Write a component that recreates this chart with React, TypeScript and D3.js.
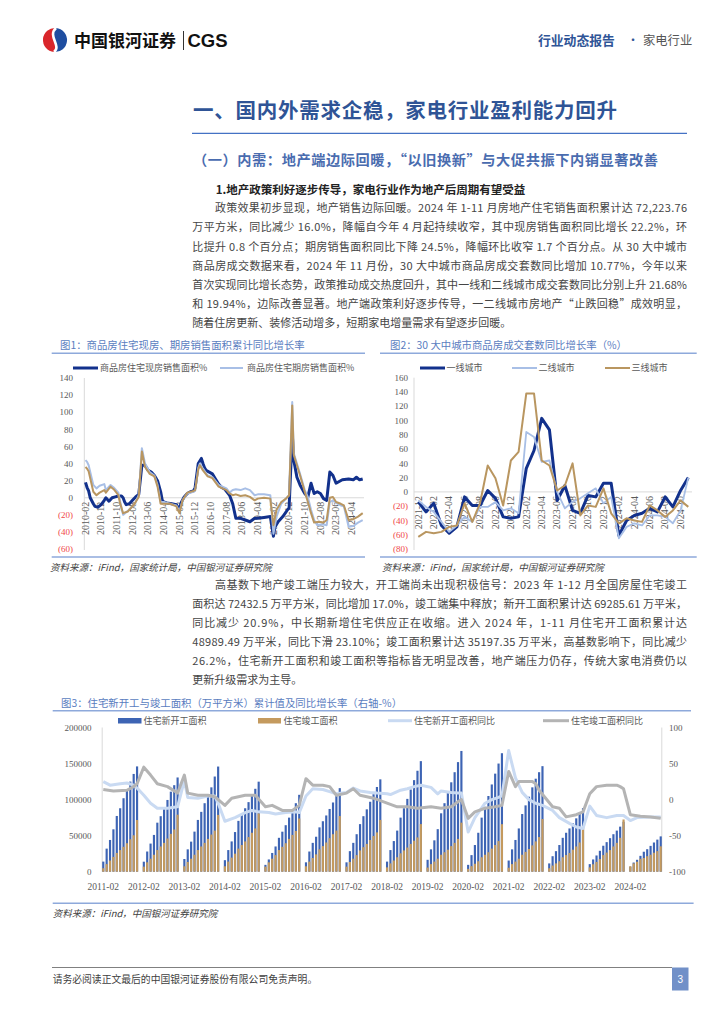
import React from "react";
import * as d3 from "d3";

const CJK = '"Noto Sans CJK SC","Noto Sans",sans-serif';
const SERIF = '"Liberation Serif","DejaVu Serif",serif';
const SANS = '"Liberation Sans",Arial,sans-serif';

// ---------------- text ----------------
const titleMain = "一、国内外需求企稳，家电行业盈利能力回升";
const titleSub = "（一）内需：地产端边际回暖，“以旧换新”与大促共振下内销显著改善";
const heading1 = "1.地产政策利好逐步传导，家电行业作为地产后周期有望受益";
const para1 = [
  "政策效果初步显现，地产销售边际回暖。2024 年 1-11 月房地产住宅销售面积累计达 72,223.76",
  "万平方米，同比减少 16.0%，降幅自今年 4 月起持续收窄，其中现房销售面积同比增长 22.2%，环",
  "比提升 0.8 个百分点；期房销售面积同比下降 24.5%，降幅环比收窄 1.7 个百分点。从 30 大中城市",
  "商品房成交数据来看，2024 年 11 月份，30 大中城市商品房成交套数同比增加 10.77%，今年以来",
  "首次实现同比增长态势，政策推动成交热度回升，其中一线和二线城市成交套数同比分别上升 21.68%",
  "和 19.94%，边际改善显著。地产端政策利好逐步传导，一二线城市房地产“止跌回稳”成效明显，",
  "随着住房更新、装修活动增多，短期家电增量需求有望逐步回暖。",
];
const para2 = [
  "高基数下地产竣工端压力较大，开工端尚未出现积极信号：2023 年 1-12 月全国房屋住宅竣工",
  "面积达 72432.5 万平方米，同比增加 17.0%，竣工端集中释放；新开工面积累计达 69285.61 万平米，",
  "同比减少 20.9%，中长期新增住宅供应正在收缩。进入 2024 年，1-11 月住宅开工面积累计达",
  "48989.49 万平米，同比下滑 23.10%；竣工面积累计达 35197.35 万平米，高基数影响下，同比减少",
  "26.2%，住宅新开工面积和竣工面积等指标皆无明显改善，地产端压力仍存，传统大家电消费仍以",
  "更新升级需求为主导。",
];

// ---------------- chart 1 data ----------------
const c1Base = "2010-02";
const c1Last = "2024-11";
const c1Labels = ["2010-02","2010-12","2011-10","2012-08","2013-06","2014-04","2015-02","2015-12","2016-10","2017-08","2018-06","2019-04","2020-02","2020-12","2021-10","2022-08","2023-06","2024-04"];
const c1YTicks = [-60,-40,-20,0,20,40,60,80,100,120,140];
const c1Xian: [string, number][] = [
  ["2010-02",18],["2010-03",12],["2010-04",8],["2010-05",0],["2010-07",-7],["2010-08",-10],["2010-10",-11],["2010-12",-8],
  ["2011-02",-3],["2011-03",0],["2011-04",-2],["2011-05",-4],["2011-07",0],["2011-09",1],["2011-11",2],["2012-01",2],
  ["2012-02",0],["2012-03",-5],["2012-04",-8],["2012-06",-7],["2012-08",-3],["2012-10",1],["2012-12",4],["2013-02",38],
  ["2013-04",38],["2013-06",32],["2013-08",30],["2013-10",26],["2013-12",20],["2014-02",7],["2014-03",-3],["2014-04",-5],
  ["2014-06",-6],["2014-09",-7],["2014-12",-8],["2015-02",-14],["2015-03",-6],["2015-05",1],["2015-07",5],["2015-09",7],
  ["2015-11",8],["2015-12",12],["2016-02",40],["2016-04",46],["2016-05",40],["2016-06",35],["2016-07",32],["2016-09",30],
  ["2016-11",28],["2017-01",22],["2017-03",16],["2017-05",12],["2017-07",10],["2017-10",3],["2017-12",-7],["2018-02",-24],
  ["2018-05",-24],["2018-08",-26],["2018-11",-28],["2019-02",-24],["2019-04",-24],["2019-08",-23],["2019-12",-22],
  ["2020-02",-45],["2020-03",-34],["2020-05",-28],["2020-08",-22],["2020-11",-14],["2020-12",-12],["2021-02",75],
  ["2021-03",44],["2021-05",24],["2021-07",15],["2021-10",5],["2021-12",1],["2022-02",17],["2022-03",11],["2022-04",5],
  ["2022-06",7],["2022-08",5],["2022-10",-1],["2022-12",-3],["2023-02",30],["2023-03",28],["2023-04",26],["2023-06",17],
  ["2023-08",19],["2023-10",21],["2024-02",22],["2024-05",21],["2024-07",24],["2024-09",21],["2024-11",22],
];
const c1Qi: [string, number][] = [
  ["2010-02",44],["2010-03",42],["2010-04",38],["2010-07",15],["2010-09",11],["2010-11",14],["2011-02",16],["2011-03",9],
  ["2011-06",15],["2011-08",12],["2011-11",6],["2011-12",-3],["2012-02",-20],["2012-04",-17],["2012-07",-12],["2012-10",-5],
  ["2012-12",3],["2013-02",58],["2013-04",40],["2013-07",30],["2013-10",26],["2013-12",15],["2014-02",-5],["2014-04",-5],
  ["2014-08",-7],["2014-12",-9],["2015-02",-16],["2015-04",-3],["2015-07",5],["2015-11",7],["2015-12",8],["2016-02",35],
  ["2016-03",40],["2016-05",34],["2016-08",26],["2016-11",24],["2017-03",15],["2017-08",11],["2017-10",6],["2017-12",9],
  ["2018-02",10],["2018-05",9],["2018-08",11],["2018-11",9],["2019-02",3],["2019-04",4],["2019-08",4],["2019-12",3],
  ["2020-02",-42],["2020-04",-22],["2020-07",-7],["2020-10",-1],["2020-12",3],["2021-02",112],["2021-03",52],["2021-07",28],
  ["2021-10",9],["2021-12",1],["2022-02",-14],["2022-04",-26],["2022-06",-32],["2022-09",-31],["2022-12",-32],["2023-02",-5],
  ["2023-04",-3],["2023-06",-6],["2023-09",-9],["2023-11",-10],["2024-02",-34],["2024-05",-33],["2024-08",-29],["2024-11",-26],
];
const c1Total: [string, number][] = [
  ["2010-02",36],["2010-03",34],["2010-04",31],["2010-07",7],["2010-09",3],["2010-11",6],["2011-02",9],["2011-03",6],
  ["2011-06",13],["2011-08",10],["2011-11",3],["2011-12",-6],["2012-02",-18],["2012-05",-16],["2012-08",-10],["2012-10",-5],
  ["2012-12",1],["2013-02",54],["2013-04",36],["2013-07",28],["2013-10",25],["2013-12",13],["2014-02",-7],["2014-04",-7],
  ["2014-08",-7],["2014-12",-10],["2015-02",-18],["2015-04",-3],["2015-07",6],["2015-11",8],["2015-12",9],["2016-02",33],
  ["2016-03",38],["2016-05",32],["2016-08",25],["2016-11",23],["2017-03",13],["2017-08",9],["2017-10",5],["2017-12",3],
  ["2018-02",4],["2018-05",2],["2018-08",3],["2018-11",1],["2019-02",-3],["2019-04",-1],["2019-08",0],["2019-12",-1],
  ["2020-02",-32],["2020-04",-14],["2020-07",-5],["2020-10",-1],["2020-12",3],["2021-02",108],["2021-03",50],["2021-07",26],
  ["2021-10",7],["2021-12",-5],["2022-02",-18],["2022-04",-29],["2022-07",-28],["2022-10",-29],["2022-12",-26],["2023-02",0],
  ["2023-04",1],["2023-06",-5],["2023-09",-7],["2023-11",-9],["2024-02",-26],["2024-05",-25],["2024-08",-22],["2024-11",-18],
];

// ---------------- chart 2 data ----------------
const c2Months = ["2021-12","2022-01","2022-02","2022-03","2022-04","2022-05","2022-06","2022-07","2022-08","2022-09","2022-10","2022-11","2022-12",
  "2023-01","2023-02","2023-03","2023-04","2023-05","2023-06","2023-07","2023-08","2023-09","2023-10","2023-11","2023-12",
  "2024-01","2024-02","2024-03","2024-04","2024-05","2024-06","2024-07","2024-08","2024-09","2024-10","2024-11"];
const c2YTicks = [-80,-60,-40,-20,0,20,40,60,80,100,120,140,160];
const c2Tier1 = [-14,-28,-16,-47,-58,-49,-7,-19,-19,2,-9,-35,-37,-35,33,58,103,87,-12,9,-26,-30,-5,-7,12,12,-61,-40,-33,-30,-23,-28,-7,-21,2,20];
const c2Tier2 = [-12,-21,-28,-42,-56,-47,-35,-42,-21,-21,-14,-26,-23,-30,84,77,42,44,0,-23,-14,-9,-2,5,-16,-7,-65,-49,-44,-47,-33,-33,-35,-44,-26,20];
const c2Tier3 = [-63,-56,-58,-56,-49,-47,-16,-42,-16,37,19,-19,44,56,138,138,44,37,2,9,40,-33,-19,-21,5,-30,-44,-37,-40,-42,-19,-26,-35,-26,-12,-21];

// ---------------- chart 3 data ----------------
const c3Base = "2011-02";
const c3Years = [2011,2012,2013,2014,2015,2016,2017,2018,2019,2020,2021,2022,2023,2024];
// cumulative Feb..Dec, 万平方米
const c3Starts: number[][] = [
  [14000,32000,44000,58800,77300,88000,101900,113000,125000,135600,146035],
  [13900,28000,39000,51000,68000,77000,88000,99500,111000,120000,130695],
  [17600,31000,41700,55600,71800,83000,95000,106500,117000,132000,145845],
  [16000,30000,42000,55000,70500,79000,88000,96500,107500,115000,124877],
  [9500,17000,26000,35000,47000,55500,64500,75000,84500,95000,106651],
  [13000,28000,40000,48500,61500,70000,78000,87000,96000,105000,115911],
  [13000,28500,40000,52000,66000,77000,86500,97000,107500,117500,128098],
  [14000,30000,42500,57000,75000,88000,101000,114000,127000,140000,153353],
  [16500,31000,43500,59000,81000,95000,109000,124000,138000,152000,167463],
  [9500,23000,37000,54000,75000,90000,105000,121000,136000,150000,164329],
  [15500,31000,44000,60000,80000,92000,104000,117000,129000,138000,146379],
  [11500,21500,28500,37000,47000,54000,60000,67000,74000,81000,88135],
  [10500,17000,22500,29000,36000,41000,46500,52000,57000,62500,69286],
  [6900,12700,16500,22000,27700,31200,35800,40500,44500,48989],
];
const c3Compl: number[][] = [
  [4800,10500,15500,20500,26000,30000,34500,39500,45000,50500,71692],
  [7000,13000,18000,23500,30000,35000,40000,46000,52500,58500,79043],
  [7500,13500,18000,23500,30000,35000,40000,45500,51500,57000,78741],
  [7500,14000,19500,25000,32000,37000,42000,48000,54000,60000,80868],
  [7000,13000,18000,23000,30000,34500,39500,45500,51000,56500,73777],
  [7500,14000,19000,24000,31000,35500,40500,46500,52000,57000,77185],
  [7000,13500,18000,23000,29500,34000,38500,44000,49500,54500,71815],
  [6000,11500,15500,20000,25500,29500,33500,38500,43000,47500,66016],
  [5700,10500,14000,18000,23500,27000,30500,35500,40000,45500,68011],
  [3900,7700,11000,14500,20000,23500,27000,32000,37000,42500,65910],
  [5500,10500,14000,18000,23500,27500,31500,36500,42000,48000,73016],
  [4800,8500,11500,14500,20000,23000,26000,30500,35000,40500,62539],
  [6000,10300,13500,17500,23000,26500,30000,35000,40000,47000,72433],
  [7600,11500,13800,17800,19000,21500,23500,26300,28500,35197],
];
const c3StartsYoY: [string, number][] = [
  ["2011-02",25],["2011-04",20],["2011-07",22],["2011-09",23],["2011-11",20],["2011-12",16],["2012-02",6],["2012-04",-5],
  ["2012-06",-12],["2012-09",-12],["2012-12",-10],["2013-02",27],["2013-03",3],["2013-06",2],["2013-09",5],["2013-11",5],
  ["2013-12",-5],["2014-02",-30],["2014-05",-25],["2014-08",-18],["2014-10",-15],["2014-12",-17],["2015-03",-18],["2015-05",-20],
  ["2015-08",-18],["2015-11",-17],["2015-12",-18],["2016-02",5],["2016-04",15],["2016-07",14],["2016-09",11],["2016-11",8],
  ["2017-02",10],["2017-04",16],["2017-06",12],["2017-09",10],["2017-11",9],["2018-02",8],["2018-03",7],["2018-06",13],
  ["2018-08",15],["2018-10",18],["2018-12",20],["2019-03",17],["2019-05",8],["2019-06",12],["2019-09",10],["2019-11",9],
  ["2019-12",9],["2020-02",-45],["2020-04",-25],["2020-07",-5],["2020-09",0],["2020-11",3],["2020-12",5],["2021-02",68],
  ["2021-04",30],["2021-06",10],["2021-08",0],["2021-10",-5],["2021-12",-8],["2022-03",-15],["2022-05",-25],["2022-08",-33],
  ["2022-10",-38],["2022-12",-40],["2023-02",-9],["2023-04",-22],["2023-07",-25],["2023-10",-22],["2023-12",-22],["2024-02",-29],
  ["2024-04",-25],["2024-08",-24],["2024-11",-24],
];
const c3ComplYoY: [string, number][] = [
  ["2011-02",14],["2011-05",12],["2011-09",13],["2011-11",18],["2011-12",22],["2012-02",45],["2012-04",34],["2012-06",22],
  ["2012-09",18],["2012-12",9],["2013-02",34],["2013-03",9],["2013-06",6],["2013-09",6],["2013-11",4],["2014-02",-8],
  ["2014-04",2],["2014-06",4],["2014-08",6],["2014-11",6],["2015-02",-10],["2015-04",-8],["2015-07",-15],["2015-10",-15],
  ["2015-12",-8],["2016-02",29],["2016-04",20],["2016-07",20],["2016-09",18],["2016-11",6],["2017-02",9],["2017-04",15],
  ["2017-06",6],["2017-10",2],["2018-02",-5],["2018-05",-10],["2018-08",-10],["2018-11",-12],["2019-03",-10],["2019-06",-12],
  ["2019-09",-10],["2019-11",-3],["2019-12",0],["2020-02",-26],["2020-04",-17],["2020-07",-12],["2020-10",-10],["2020-12",-8],
  ["2021-02",39],["2021-04",18],["2021-05",25],["2021-09",25],["2021-10",22],["2021-11",13],["2022-03",-10],["2022-05",-12],
  ["2022-07",-24],["2022-10",-21],["2022-12",-17],["2023-02",8],["2023-04",18],["2023-07",20],["2023-10",20],["2023-11",18],
  ["2023-12",15],["2024-02",-21],["2024-05",-23],["2024-08",-24],["2024-11",-26],
];
const c3LeftTicks = [0,50000,100000,150000,200000];
const c3RightTicks = [-100,-50,0,50,100];

// ---------------- helpers ----------------
function mIdx(d: string, base: string) {
  const [y, m] = d.split("-").map(Number);
  const [by, bm] = base.split("-").map(Number);
  return (y - by) * 12 + (m - bm);
}

const BODY_FILL = "#454545";
const TITLE_BLUE = "#5A7DBF";
const RULE_BLUE = "#8EA9DB";

function BodyLines({ lines, x0, xIndent, xRight, y0, step, justifyCount }: any) {
  return (
    <g fontFamily={CJK} fontSize={11} fill={BODY_FILL}>
      {lines.map((t: string, i: number) => {
        const x = i === 0 ? xIndent : x0;
        const just = i < justifyCount;
        return (
          <text key={i} x={x} y={y0 + i * step}
            {...(just ? { textLength: xRight - x, lengthAdjust: "spacing" } : {})}>{t}</text>
        );
      })}
    </g>
  );
}

function Header() {
  return (
    <g>
      <path d="M56,28 A12,12 0 0 0 54,52 C62,46 47,36 56,28 Z" fill="#D9262B" />
      <path d="M56,28 A12,12 0 0 1 54,52 C62,46 47,36 56,28 Z" fill="#1F4EA0" />
      <path d="M56,28 C47,36 62,46 54,52" fill="none" stroke="#fff" strokeWidth={2.6} />
      <text x={74} y={46.5} fontFamily={CJK} fontWeight={700} fontSize={17} fill="#111">中国银河证券</text>
      <line x1={183.5} x2={183.5} y1={31} y2={50} stroke="#333" strokeWidth={1} />
      <text x={187.5} y={47} fontFamily={SANS} fontWeight={700} fontSize={18.5} fill="#111">CGS</text>
      <text x={538} y={45} fontFamily={CJK} fontWeight={700} fontSize={12.8} fill="#2F5597">行业动态报告</text>
      <text x={627} y={45} fontFamily={CJK} fontSize={12} fill="#2F5597">·</text>
      <text x={643} y={45} fontFamily={CJK} fontSize={12.3} fill="#555">家电行业</text>
    </g>
  );
}

function Intro() {
  return (
    <g>
      <text x={193} y={117.5} fontFamily={CJK} fontWeight={700} fontSize={20.5} fill="#2F5496"
        textLength={424} lengthAdjust="spacing">{titleMain}</text>
      <line x1={192} x2={687} y1={133.3} y2={133.3} stroke="#4472C4" strokeWidth={1.2} />
      <text x={193} y={165} fontFamily={CJK} fontWeight={700} fontSize={14.2} fill="#4A6CAF"
        textLength={465} lengthAdjust="spacing">{titleSub}</text>
      <text x={215.7} y={194} fontFamily={CJK} fontWeight={700} fontSize={11.5} fill="#222">{heading1}</text>
      <BodyLines lines={para1} x0={192.3} xIndent={215} xRight={687} y0={212.3} step={19.1} justifyCount={6} />
    </g>
  );
}

function Chart1() {
  const x = d3.scaleLinear().domain([0, mIdx(c1Last, c1Base)]).range([85.5, 362.7]);
  const y = d3.scaleLinear().domain([-60, 140]).range([549.1, 378]);
  const line = d3.line<[string, number]>().x((d) => x(mIdx(d[0], c1Base))).y((d) => y(d[1]));
  return (
    <g>
      <text x={60} y={348.7} fontFamily={CJK} fontSize={10.4} fill={TITLE_BLUE}>图1：商品房住宅现房、期房销售面积累计同比增长率</text>
      <line x1={51.7} x2={365} y1={353.3} y2={353.3} stroke={RULE_BLUE} strokeWidth={1.5} />
      <line x1={73} x2={98} y1={368} y2={368} stroke="#12318C" strokeWidth={3} />
      <text x={100} y={371.3} fontFamily={CJK} fontSize={9} fill="#595959">商品房住宅现房销售面积%</text>
      <line x1={220} x2={243} y1={368} y2={368} stroke="#A8BFE6" strokeWidth={2} />
      <text x={247} y={371.3} fontFamily={CJK} fontSize={9} fill="#595959">商品房住宅期房销售面积%</text>
      {c1YTicks.map((t) => (
        <text key={t} x={73} y={y(t) + 3.2} textAnchor="end" fontFamily={SERIF} fontSize={9}
          fill={t < 0 ? "#F04848" : "#595959"}>{t < 0 ? `(${-t})` : t}</text>
      ))}
      <line x1={84.3} x2={84.3} y1={378} y2={550} stroke="#D9D9D9" />
      <line x1={84.3} x2={364} y1={y(0)} y2={y(0)} stroke="#D9D9D9" />
      {c1Labels.map((l) => (
        <text key={l} transform={`translate(${x(mIdx(l, c1Base)) + 3.3},${y(0) + 4}) rotate(-90)`} textAnchor="end"
          fontFamily={SERIF} fontSize={10} fill="#595959">{l}</text>
      ))}
      <path d={line(c1Xian) || ""} fill="none" stroke="#12318C" strokeWidth={3} strokeLinejoin="round" />
      <path d={line(c1Qi) || ""} fill="none" stroke="#A8BFE6" strokeWidth={2} strokeLinejoin="round" />
      <path d={line(c1Total) || ""} fill="none" stroke="#B99660" strokeWidth={2} strokeLinejoin="round" />
      <line x1={51.7} x2={365} y1={557} y2={557} stroke={RULE_BLUE} strokeWidth={1.5} />
      <text x={50} y={570.5} fontFamily={CJK} fontSize={9.5} fontStyle="italic" fill="#404040">资料来源：iFind，国家统计局，中国银河证券研究院</text>
    </g>
  );
}

function Chart2() {
  const x = d3.scaleLinear().domain([0, c2Months.length - 1]).range([418.3, 688.3]);
  const y = d3.scaleLinear().domain([-80, 160]).range([549, 377.7]);
  const line = d3.line<number>().x((_, i) => x(i)).y((d) => y(d));
  return (
    <g>
      <text x={390} y={348.7} fontFamily={CJK} fontSize={10.4} fill={TITLE_BLUE}>图2：30 大中城市商品房成交套数同比增长率（%）</text>
      <line x1={380} x2={696.7} y1={353.3} y2={353.3} stroke={RULE_BLUE} strokeWidth={1.5} />
      <line x1={420} x2={445} y1={368} y2={368} stroke="#12318C" strokeWidth={3} />
      <text x={446.5} y={371.3} fontFamily={CJK} fontSize={9} fill="#595959">一线城市</text>
      <line x1={512} x2={537} y1={368} y2={368} stroke="#A8BFE6" strokeWidth={2} />
      <text x={538.5} y={371.3} fontFamily={CJK} fontSize={9} fill="#595959">二线城市</text>
      <line x1={605} x2={630} y1={368} y2={368} stroke="#B99660" strokeWidth={2} />
      <text x={631.5} y={371.3} fontFamily={CJK} fontSize={9} fill="#595959">三线城市</text>
      {c2YTicks.map((t) => (
        <text key={t} x={408} y={y(t) + 3.2} textAnchor="end" fontFamily={SERIF} fontSize={9}
          fill={t < 0 ? "#F04848" : "#595959"}>{t < 0 ? `(${-t})` : t}</text>
      ))}
      <line x1={414} x2={414} y1={377.7} y2={550} stroke="#D9D9D9" />
      <line x1={414} x2={692} y1={y(0)} y2={y(0)} stroke="#D9D9D9" />
      {c2Months.map((m, i) => (i % 2 === 0 ? (
        <text key={m} transform={`translate(${x(i) + 3.3},${y(0) + 4}) rotate(-90)`} textAnchor="end"
          fontFamily={SERIF} fontSize={10} fill="#595959">{m}</text>
      ) : null))}
      <path d={line(c2Tier1) || ""} fill="none" stroke="#12318C" strokeWidth={3} strokeLinejoin="round" />
      <path d={line(c2Tier2) || ""} fill="none" stroke="#A8BFE6" strokeWidth={1.8} strokeLinejoin="round" />
      <path d={line(c2Tier3) || ""} fill="none" stroke="#B99660" strokeWidth={2} strokeLinejoin="round" />
      <line x1={380} x2={696.7} y1={557} y2={557} stroke={RULE_BLUE} strokeWidth={1.5} />
      <text x={382} y={570.5} fontFamily={CJK} fontSize={9.5} fontStyle="italic" fill="#404040">资料来源：iFind，国家统计局，中国银河证券研究院</text>
    </g>
  );
}

function Chart3() {
  const nSlots = mIdx("2024-11", c3Base) + 1;
  const band = d3.scaleBand<number>().domain(d3.range(nSlots)).range([102.2, 661.8]).paddingInner(0.36);
  const yL = d3.scaleLinear().domain([0, 200000]).range([871.7, 727.5]);
  const yR = d3.scaleLinear().domain([-100, 100]).range([871.7, 727.5]);
  const cx = (i: number) => (band(i) as number) + band.bandwidth() / 2;
  const line = d3.line<[string, number]>().x((d) => cx(mIdx(d[0], c3Base))).y((d) => yR(d[1]));
  const bars = (data: number[][]) =>
    c3Years.flatMap((yr, yi) =>
      data[yi].map((v, j) => ({ slot: (yr - 2011) * 12 + j, v }))
    );
  const startBars = bars(c3Starts);
  const complBars = bars(c3Compl);
  return (
    <g>
      <text x={61} y={707} fontFamily={CJK} fontSize={10.4} fill={TITLE_BLUE}>图3：住宅新开工与竣工面积（万平方米）累计值及同比增长率（右轴-%）</text>
      <line x1={52.7} x2={691} y1={710.7} y2={710.7} stroke={RULE_BLUE} strokeWidth={1.5} />
      <rect x={118} y={718} width={23.5} height={5.5} fill="#3D64B4" />
      <text x={143.5} y={724} fontFamily={CJK} fontSize={9} fill="#595959">住宅新开工面积</text>
      <rect x={258} y={718} width={23} height={5.5} fill="#C49A5E" />
      <text x={283.5} y={724} fontFamily={CJK} fontSize={9} fill="#595959">住宅竣工面积</text>
      <line x1={388} x2={412} y1={720.7} y2={720.7} stroke="#C9DAF2" strokeWidth={3} />
      <text x={414} y={724} fontFamily={CJK} fontSize={9} fill="#595959">住宅新开工面积同比</text>
      <line x1={543} x2={569} y1={720.7} y2={720.7} stroke="#B4B4B4" strokeWidth={3} />
      <text x={571} y={724} fontFamily={CJK} fontSize={9} fill="#595959">住宅竣工面积同比</text>
      {c3LeftTicks.map((t) => (
        <text key={t} x={91.6} y={yL(t) + 3} textAnchor="end" fontFamily={SERIF} fontSize={9} fill="#595959">{t}</text>
      ))}
      {c3RightTicks.map((t) => (
        <text key={t} x={669} y={yR(t) + 3} fontFamily={SERIF} fontSize={9} fill="#595959">{t}</text>
      ))}
      <line x1={102.2} x2={102.2} y1={727.5} y2={871.7} stroke="#D9D9D9" />
      <line x1={661.8} x2={661.8} y1={727.5} y2={871.7} stroke="#D9D9D9" />
      {startBars.map((b) => (
        <rect key={"s" + b.slot} x={band(b.slot)} width={band.bandwidth()} y={yL(b.v)} height={yL(0) - yL(b.v)} fill="#3D64B4" />
      ))}
      {complBars.map((b) => (
        <rect key={"c" + b.slot} x={band(b.slot)} width={band.bandwidth()} y={yL(b.v)} height={yL(0) - yL(b.v)} fill="#C49A5E" />
      ))}
      <path d={line(c3StartsYoY) || ""} fill="none" stroke="#C9DAF2" strokeWidth={3} strokeLinejoin="round" />
      <path d={line(c3ComplYoY) || ""} fill="none" stroke="#B4B4B4" strokeWidth={3} strokeLinejoin="round" />
      {c3Years.map((yr) => (
        <text key={yr} x={cx((yr - 2011) * 12)} y={889.5} textAnchor="middle" fontFamily={SERIF} fontSize={9.5} fill="#595959">{`${yr}-02`}</text>
      ))}
      <line x1={52.7} x2={693.6} y1={903.3} y2={903.3} stroke={RULE_BLUE} strokeWidth={1.5} />
      <text x={52.7} y={916.5} fontFamily={CJK} fontSize={9.5} fontStyle="italic" fill="#404040">资料来源：iFind，中国银河证券研究院</text>
    </g>
  );
}

function Footer() {
  return (
    <g>
      <line x1={52} x2={672} y1={967.5} y2={967.5} stroke="#808080" strokeWidth={1} />
      <text x={52.7} y={983} fontFamily={CJK} fontSize={9.8} fill="#404040">请务必阅读正文最后的中国银河证券股份有限公司免责声明。</text>
      <rect x={672} y={967.5} width={16.5} height={23} fill="#7190C8" />
      <text x={680.2} y={983} textAnchor="middle" fontFamily={SANS} fontSize={10} fill="#fff">3</text>
    </g>
  );
}

export default function App() {
  return (
    <svg width={724} height={1024} viewBox="0 0 724 1024"
      style={{ position: "absolute", left: 0, top: 0, background: "#fff" }}>
      <rect width={724} height={1024} fill="#fff" />
      <Header />
      <Intro />
      <Chart1 />
      <Chart2 />
      <BodyLines lines={para2} x0={192.3} xIndent={215} xRight={687} y0={589} step={19} justifyCount={5} />
      <Chart3 />
      <Footer />
    </svg>
  );
}
